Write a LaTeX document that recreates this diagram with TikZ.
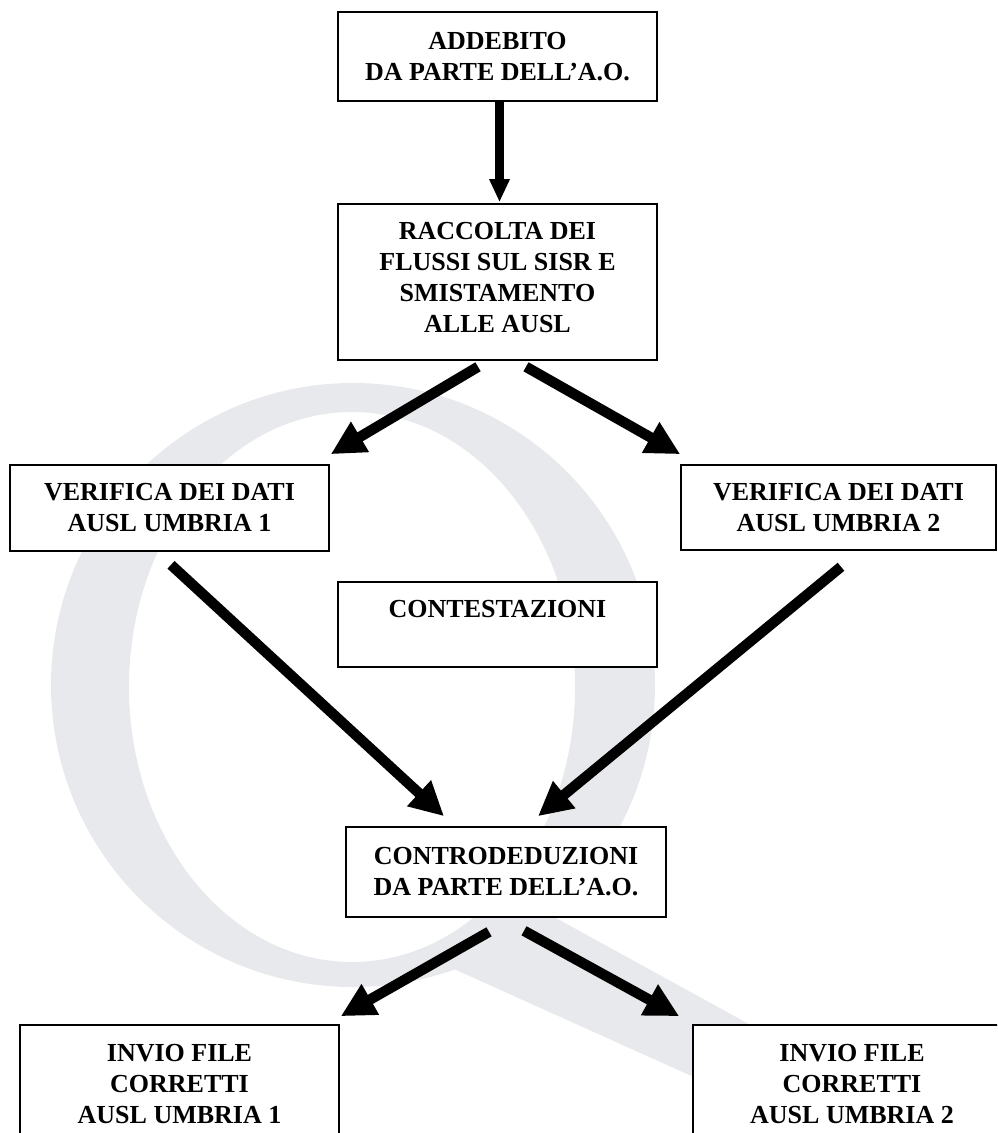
\documentclass[tikz,border=0pt]{standalone}
\usepackage{fontspec}
\setmainfont{Liberation Serif}
\usetikzlibrary{arrows.meta}
\definecolor{wm}{RGB}{232,233,236}
\begin{document}
\begin{tikzpicture}[x=0.5pt,y=-0.5pt,
  box/.style={draw=black, line width=0.8pt, fill=white, inner sep=0pt, align=center,
    font=\fontsize{13}{15.5}\selectfont\bfseries},
  bigarrow/.style={line width=5.2pt, -{Triangle[length=17pt,width=16.5pt]}},
  vertarrow/.style={line width=4.6pt, -{Triangle[length=11.5pt,width=9.5pt]}}]
\useasboundingbox (0,0) rectangle (997,1133);
\clip (0,0) rectangle (997,1133);
% watermark
\fill[wm, even odd rule] (353,685) circle [radius=151pt] (352,687) ellipse [x radius=111.5pt, y radius=137.5pt];
\fill[wm] (445,965) -- (545,912) -- (1000,1162) -- (1000,1215) -- cycle;
% boxes
\node[box, minimum width=159.5pt, minimum height=44.5pt] (a) at (497.5,56.5) {ADDEBITO\\DA PARTE DELL’A.O.};
\node[box, minimum width=159.5pt, minimum height=78pt, text depth=5pt] (b) at (497.5,282) {RACCOLTA DEI\\FLUSSI SUL SISR E\\SMISTAMENTO\\ALLE AUSL};
\node[box, minimum width=159.5pt, minimum height=43pt] (c) at (169.5,508) {VERIFICA DEI DATI\\AUSL UMBRIA 1};
\node[box, minimum width=157.5pt, minimum height=42.5pt] (d) at (838.5,507.5) {VERIFICA DEI DATI\\AUSL UMBRIA 2};
\node[box, minimum width=159.5pt, minimum height=42.5pt] (e) at (497.5,624.5) {CONTESTAZIONI\\\mbox{}};
\node[box, minimum width=160pt, minimum height=45pt] (f) at (506,872) {CONTRODEDUZIONI\\DA PARTE DELL’A.O.};
\node[box, minimum width=159.5pt, minimum height=59pt] (g) at (179.5,1084) {INVIO FILE\\CORRETTI\\AUSL UMBRIA 1};
\node[box, minimum width=159pt, minimum height=59pt] (h) at (852,1084) {INVIO FILE\\CORRETTI\\AUSL UMBRIA 2};
% connectors
\draw[vertarrow] ([shift={(2,0)}]a.south) -- ([shift={(2,-1)}]b.north);
\draw[bigarrow] ([shift={(-19.5,6)}]b.south) -- ([shift={(1,-10)}]c.north east);
\draw[bigarrow] ([shift={(28.5,6)}]b.south) -- ([shift={(0,-10)}]d.north west);
\draw[bigarrow] ([shift={(1.5,13)}]c.south) -- ([shift={(-62,-10)}]f.north);
\draw[bigarrow] ([shift={(2.5,16)}]d.south) -- ([shift={(32,-10)}]f.north);
\draw[bigarrow] ([shift={(-17,14)}]f.south) -- ([shift={(1,-8)}]g.north east);
\draw[bigarrow] ([shift={(18,13)}]f.south) -- ([shift={(-13,-8)}]h.north west);
\end{tikzpicture}
\end{document}
